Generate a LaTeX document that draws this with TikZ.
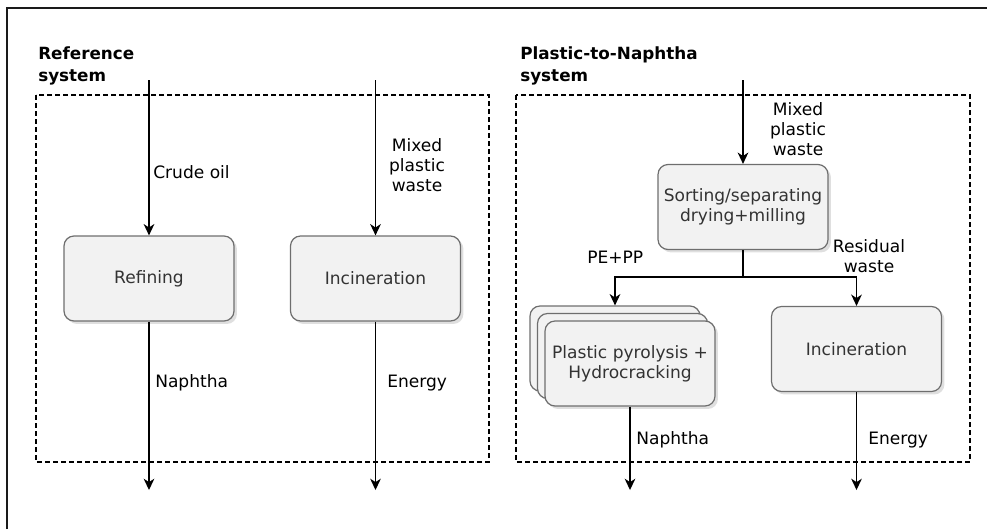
\documentclass[tikz,border=0pt]{standalone}
\usepackage{fontspec}
\setmainfont{DejaVu Sans}
\usetikzlibrary{arrows.meta,shadows}
\definecolor{boxfill}{HTML}{F2F2F2}
\definecolor{boxline}{HTML}{6E6E6E}
\definecolor{boxtext}{HTML}{333333}
\definecolor{frameline}{HTML}{1A1A1A}
\begin{document}
\begin{tikzpicture}[x=0.75pt,y=-0.75pt,
  every node/.style={font=\fontsize{12.8}{15}\selectfont},
  proc/.style={draw=boxline, line width=0.9pt, fill=boxfill, rounded corners=7.5pt,
    minimum width=127.5pt, minimum height=63.75pt, align=center, text=boxtext,
    inner sep=0pt,
    drop shadow={shadow xshift=2.2pt, shadow yshift=-2.2pt, fill=black!25}},
  flow/.style={line width=1pt, draw=black, -{Stealth[length=8.5pt,width=8pt,inset=2.6pt]}},
  branch/.style={line width=1pt, draw=black},
  lbl/.style={align=center, inner sep=0pt},
  lblw/.style={anchor=west, inner sep=0pt},
  systitle/.style={font=\bfseries\fontsize{12.6}{16.5}\selectfont, align=left,
    anchor=west, inner sep=0pt},
  sysbox/.style={draw=black, line width=0.9pt, dash pattern=on 3.6pt off 2.4pt}
]
\useasboundingbox (0,0) rectangle (987,529);

% outer frame (left and top edges)
\draw[frameline, line width=1.7pt] (7,529) -- (7,8) -- (987,8);

% ---------------- reference system ----------------
\node[systitle] (refTitle) at (38,66) {Reference\\system};
\draw[sysbox] (36,95) rectangle (489,462);

\node[proc] (refining) at (149,278.5) {Refining};
\node[proc] (incL) at (375.5,278.5) {Incineration};

\coordinate (crudeIn) at (149,80);
\coordinate (wasteInL) at (375.5,80);
\coordinate (naphOutL) at (149,490);
\coordinate (energyOutL) at (375.5,490);

\draw[flow] (crudeIn) -- (refining.north);
\draw[flow] (wasteInL) -- (incL.north);
\draw[flow] (refining.south) -- (naphOutL);
\draw[flow] (incL.south) -- (energyOutL);

\node[lblw] (crudeLbl) at (153,172) {Crude oil};
\node[lbl] (wasteLblL) at (417,165) {Mixed\\plastic\\waste};
\node[lblw] (naphLblL) at (155,383) {Naphtha};
\node[lblw] (energyLblL) at (387,383) {Energy};

% ---------------- plastic-to-naphtha system ----------------
\node[systitle] (ptnTitle) at (520,66) {Plastic-to-Naphtha\\system};
\draw[sysbox] (516,95) rectangle (970,462);

\node[proc] (sorting) at (743,207) {Sorting/separating\\drying+milling};

\node[proc] (pyroBack) at (615,348.5) {};
\node[proc] (pyroMid) at (622.5,356) {};
\node[proc] (pyroFront) at (630,363.5) {Plastic pyrolysis +\\Hydrocracking};

\node[proc] (incR) at (856.5,349) {Incineration};

\coordinate (wasteInR) at (743,80);
\coordinate (split) at (743,277);
\coordinate (naphOutR) at (630,490);
\coordinate (energyOutR) at (856.5,490);

\draw[flow] (wasteInR) -- (sorting.north);
\draw[branch] (sorting.south) -- (split);
\draw[flow] (split) -| (pyroBack.north);
\draw[flow] (split) -| (incR.north);
\draw[flow] (pyroFront.south) -- (naphOutR);
\draw[flow] (incR.south) -- (energyOutR);

\node[lbl] (wasteLblR) at (798,129.5) {Mixed\\plastic\\waste};
\node[lblw] (pepp) at (587,257) {PE+PP};
\node[lbl] (residual) at (869,256.5) {Residual\\waste};
\node[lblw] (naphLblR) at (636,440) {Naphtha};
\node[lblw] (energyLblR) at (868,440) {Energy};
\end{tikzpicture}
\end{document}
